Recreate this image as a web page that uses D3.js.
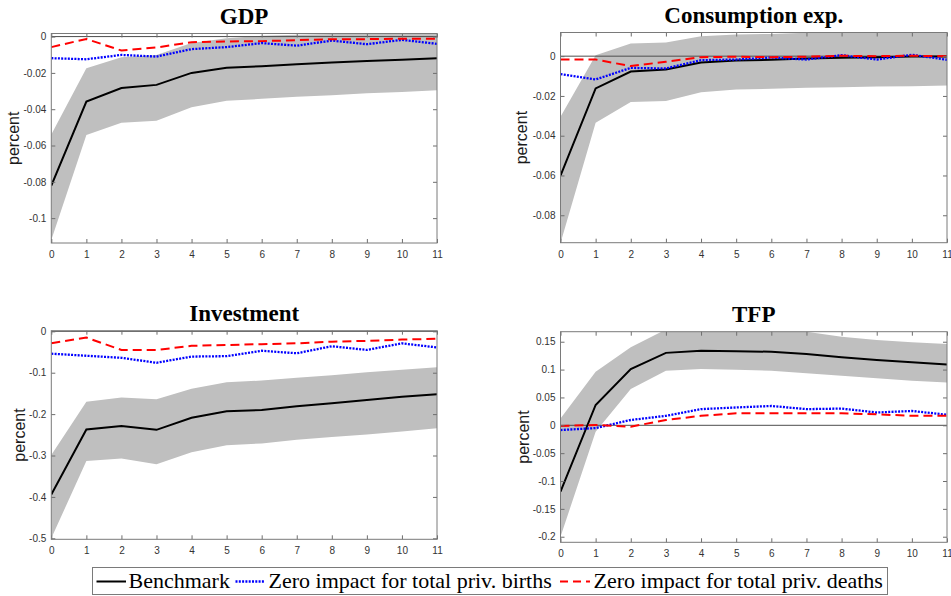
<!DOCTYPE html>
<html>
<head>
<meta charset="utf-8">
<script src="https://cdn.jsdelivr.net/npm/d3@7"></script>
<style>
    body { margin: 0; background: #fff; }
    svg { display: block; }
</style>
</head>
<body>
<div id="chart"></div>
<script>
// horizons on the x axis
var horizons = [0, 1, 2, 3, 4, 5, 6, 7, 8, 9, 10, 11];

// GDP
var gdpBench  = [-0.0821, -0.0358, -0.0283, -0.0266, -0.0200, -0.0172, -0.0163, -0.0152, -0.0143, -0.0134, -0.0127, -0.0119];
var gdpUpper  = [-0.0540, -0.0174, -0.0114, -0.0101, -0.0036, -0.0009, 0.0004, 0.0010, 0.0014, 0.0017, 0.0020, 0.0022];
var gdpLower  = [-0.1120, -0.0542, -0.0474, -0.0463, -0.0389, -0.0353, -0.0343, -0.0331, -0.0323, -0.0312, -0.0305, -0.0295];
var gdpBirths = [-0.0119, -0.0125, -0.0101, -0.0110, -0.0069, -0.0058, -0.0036, -0.0050, -0.0022, -0.0042, -0.0018, -0.0040];
var gdpDeaths = [-0.0058, -0.0013, -0.0077, -0.0060, -0.0031, -0.0027, -0.0025, -0.0020, -0.0014, -0.0014, -0.0012, -0.0012];
var gdpTicks  = [-0.1, -0.08, -0.06, -0.04, -0.02, 0];

// Consumption exp.
var conBench  = [-0.0601, -0.0162, -0.0077, -0.0067, -0.0032, -0.0022, -0.0018, -0.0012, -0.0008, -0.0005, -0.0002, -0.0002];
var conUpper  = [-0.0305, 0.0005, 0.0064, 0.0069, 0.0100, 0.0109, 0.0112, 0.0118, 0.0121, 0.0124, 0.0126, 0.0128];
var conLower  = [-0.0940, -0.0335, -0.0230, -0.0225, -0.0181, -0.0168, -0.0164, -0.0159, -0.0156, -0.0152, -0.0151, -0.0147];
var conBirths = [-0.0090, -0.0117, -0.0059, -0.0062, -0.0020, -0.0017, -0.0007, -0.0017, 0.0005, -0.0017, 0.0007, -0.0018];
var conDeaths = [-0.0017, -0.0017, -0.0050, -0.0028, -0.0005, -0.0003, -0.0005, -0.0003, 0.0002, 0.0000, 0.0002, 0.0000];
var conTicks  = [-0.08, -0.06, -0.04, -0.02, 0];

// Investment
var invBench  = [-0.394, -0.237, -0.229, -0.238, -0.209, -0.193, -0.190, -0.181, -0.174, -0.166, -0.158, -0.152];
var invUpper  = [-0.299, -0.170, -0.160, -0.164, -0.139, -0.123, -0.119, -0.112, -0.106, -0.099, -0.093, -0.087];
var invLower  = [-0.500, -0.313, -0.307, -0.321, -0.292, -0.275, -0.271, -0.262, -0.255, -0.249, -0.242, -0.234];
var invBirths = [-0.054, -0.059, -0.064, -0.076, -0.061, -0.060, -0.047, -0.053, -0.036, -0.045, -0.029, -0.039];
var invDeaths = [-0.029, -0.015, -0.045, -0.045, -0.035, -0.033, -0.031, -0.029, -0.025, -0.023, -0.020, -0.018];
var invTicks  = [-0.5, -0.4, -0.3, -0.2, -0.1, 0];

// TFP
var tfpBench  = [-0.119, 0.0365, 0.101, 0.130, 0.134, 0.133, 0.132, 0.128, 0.122, 0.117, 0.113, 0.109];
var tfpUpper  = [0.012, 0.096, 0.140, 0.172, 0.178, 0.178, 0.176, 0.168, 0.159, 0.153, 0.149, 0.146];
var tfpLower  = [-0.200, -0.0115, 0.065, 0.098, 0.101, 0.0995, 0.098, 0.0935, 0.089, 0.0845, 0.080, 0.0766];
var tfpBirths = [-0.0085, -0.0050, 0.0095, 0.0170, 0.0290, 0.0320, 0.0347, 0.0290, 0.0300, 0.0230, 0.0257, 0.0190];
var tfpDeaths = [-0.0013, 0.0005, -0.0025, 0.0095, 0.0170, 0.0215, 0.0215, 0.0215, 0.0215, 0.0198, 0.0170, 0.0170];
var tfpTicks  = [-0.2, -0.15, -0.1, -0.05, 0, 0.05, 0.1, 0.15];

var legendLabels = ["Benchmark", "Zero impact for total priv. births", "Zero impact for total priv. deaths"];

var svg = d3.select("#chart").append("svg")
    .attr("width", 951)
    .attr("height", 596);

var benchStyle  = { color: "#000000", width: 2,   dash: null };
var birthsStyle = { color: "#0000ff", width: 2.3, dash: "2,1.3" };
var deathsStyle = { color: "#ff0000", width: 2,   dash: "9,5" };

/*
 * Panel - one impulse response subplot
 */
Panel = function(_id, _title, _box, _domain, _ticks, _labelX, _bench, _upper, _lower, _births, _deaths) {
    this.id = _id;
    this.title = _title;
    this.box = _box;
    this.domain = _domain;
    this.ticks = _ticks;
    this.labelX = _labelX;
    this.bench = _bench;
    this.upper = _upper;
    this.lower = _lower;
    this.births = _births;
    this.deaths = _deaths;

    this.initVis();
}

Panel.prototype.initVis = function() {
    var vis = this;
    var b = vis.box;

    vis.x = d3.scaleLinear().domain([0, 11]).range([b.x0, b.x1]);
    vis.y = d3.scaleLinear().domain(vis.domain).range([b.y1, b.y0]);

    vis.g = svg.append("g");

    vis.g.append("clipPath").attr("id", "clip-" + vis.id)
        .append("rect")
        .attr("x", b.x0).attr("y", b.y0)
        .attr("width", b.x1 - b.x0).attr("height", b.y1 - b.y0);

    var plot = vis.g.append("g").attr("clip-path", "url(#clip-" + vis.id + ")");

    var area = d3.area()
        .x(function(d, i) { return vis.x(horizons[i]); })
        .y0(function(d, i) { return vis.y(vis.lower[i]); })
        .y1(function(d, i) { return vis.y(vis.upper[i]); });

    plot.append("path")
        .datum(vis.upper)
        .attr("d", area)
        .attr("fill", "#bfbfbf");

    // zero line
    plot.append("line")
        .attr("x1", b.x0).attr("x2", b.x1)
        .attr("y1", vis.y(0)).attr("y2", vis.y(0))
        .attr("stroke", "#4d4d4d")
        .attr("stroke-width", 1);

    var line = d3.line()
        .x(function(d, i) { return vis.x(horizons[i]); })
        .y(function(d) { return vis.y(d); });

    [[vis.bench, benchStyle], [vis.births, birthsStyle], [vis.deaths, deathsStyle]].forEach(function(s) {
        plot.append("path")
            .datum(s[0])
            .attr("d", line)
            .attr("fill", "none")
            .attr("stroke", s[1].color)
            .attr("stroke-width", s[1].width)
            .attr("stroke-dasharray", s[1].dash);
    });

    var fmt = function(d) { return d === 0 ? "0" : String(+d.toFixed(3)); };

    var xAxis = vis.g.append("g")
        .attr("transform", "translate(0," + b.y1 + ")")
        .call(d3.axisBottom(vis.x).tickValues(horizons).tickSizeInner(-4).tickSizeOuter(0).tickPadding(8).tickFormat(d3.format("d")));
    var xTop = vis.g.append("g")
        .attr("transform", "translate(0," + b.y0 + ")")
        .call(d3.axisTop(vis.x).tickValues(horizons).tickSizeInner(-4).tickSizeOuter(0).tickFormat(""));
    var yAxis = vis.g.append("g")
        .attr("transform", "translate(" + b.x0 + ",0)")
        .call(d3.axisLeft(vis.y).tickValues(vis.ticks).tickSizeInner(-4).tickSizeOuter(0).tickPadding(5).tickFormat(fmt));
    var yRight = vis.g.append("g")
        .attr("transform", "translate(" + b.x1 + ",0)")
        .call(d3.axisRight(vis.y).tickValues(vis.ticks).tickSizeInner(-4).tickSizeOuter(0).tickFormat(""));

    [xAxis, xTop, yAxis, yRight].forEach(function(a) {
        a.select(".domain").remove();
        a.selectAll("line").attr("stroke", "#6e6e6e");
        a.selectAll("text")
            .attr("fill", "#333")
            .style("font-family", "'Liberation Sans', Arial, sans-serif")
            .style("font-size", "10px");
    });

    vis.g.append("rect")
        .attr("x", b.x0).attr("y", b.y0)
        .attr("width", b.x1 - b.x0).attr("height", b.y1 - b.y0)
        .attr("fill", "none")
        .attr("stroke", "#7a7a7a")
        .attr("stroke-width", 1);

    vis.g.append("text")
        .attr("x", (b.x0 + b.x1) / 2)
        .attr("y", b.y0 - 10)
        .attr("text-anchor", "middle")
        .style("font-family", "'Liberation Serif', 'Times New Roman', serif")
        .style("font-weight", "bold")
        .style("font-size", "23px")
        .text(vis.title);

    vis.g.append("text")
        .attr("transform", "translate(" + (vis.labelX + 5) + "," + ((b.y0 + b.y1) / 2) + ") rotate(-90)")
        .attr("text-anchor", "middle")
        .attr("fill", "#1a1a1a")
        .style("font-family", "'Liberation Sans', Arial, sans-serif")
        .style("font-size", "16px")
        .text("percent");
};

new Panel("gdp", "GDP", { x0: 51.3, x1: 437, y0: 33.5, y1: 243 }, [-0.1137, 0.0017], gdpTicks, 14,
    gdpBench, gdpUpper, gdpLower, gdpBirths, gdpDeaths);
new Panel("con", "Consumption exp.", { x0: 560.5, x1: 947, y0: 32.5, y1: 242.7 }, [-0.0938, 0.0119], conTicks, 522,
    conBench, conUpper, conLower, conBirths, conDeaths);
new Panel("inv", "Investment", { x0: 51.3, x1: 437, y0: 330.7, y1: 539.3 }, [-0.5024, 0.0015], invTicks, 20,
    invBench, invUpper, invLower, invBirths, invDeaths);
new Panel("tfp", "TFP", { x0: 560.5, x1: 947, y0: 331.7, y1: 542.3 }, [-0.210, 0.168], tfpTicks, 524,
    tfpBench, tfpUpper, tfpLower, tfpBirths, tfpDeaths);

// legend
var legend = svg.append("g");
legend.append("rect")
    .attr("x", 92.5).attr("y", 567.5)
    .attr("width", 795).attr("height", 27)
    .attr("fill", "#fff")
    .attr("stroke", "#7a7a7a")
    .attr("stroke-width", 1);

var legendX = [[96.5, 126, 128.5], [235.5, 265, 268.5], [560, 590, 593.5]];
var legendStyles = [benchStyle, birthsStyle, deathsStyle];

legendLabels.forEach(function(lab, i) {
    var p = legendX[i];
    legend.append("line")
        .attr("x1", p[0]).attr("x2", p[1])
        .attr("y1", 581.5).attr("y2", 581.5)
        .attr("stroke", legendStyles[i].color)
        .attr("stroke-width", legendStyles[i].width)
        .attr("stroke-dasharray", i === 2 ? "8,5" : legendStyles[i].dash);
    legend.append("text")
        .attr("x", p[2])
        .attr("y", 588)
        .style("font-family", "'Liberation Serif', 'Times New Roman', serif")
        .style("font-size", "22px")
        .text(lab);
});
</script>
</body>
</html>
